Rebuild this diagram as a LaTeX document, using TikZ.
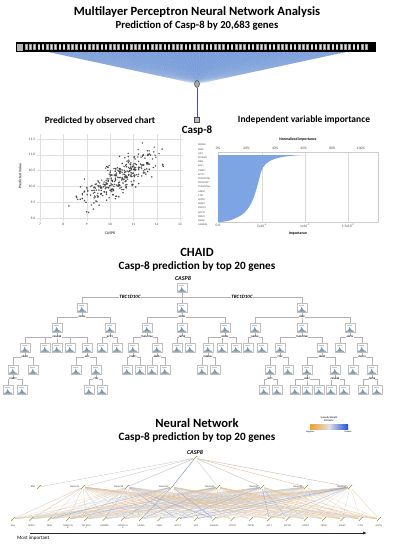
\documentclass[tikz,border=0pt]{standalone}
\usepackage{fontspec}
\setmainfont{Carlito}
\usetikzlibrary{calc,arrows.meta,shapes.geometric}
\pgfdeclarelayer{bg}
\pgfsetlayers{bg,main}
\definecolor{fanblue}{RGB}{122,158,218}
\definecolor{barblue}{RGB}{125,165,228}
\definecolor{histo}{RGB}{110,160,185}
\definecolor{wtan}{RGB}{228,188,140}
\definecolor{wblue}{RGB}{110,135,205}
\definecolor{wgray}{RGB}{200,200,200}
\definecolor{nnolive}{RGB}{150,140,50}
\definecolor{legor}{RGB}{240,160,40}
\definecolor{legbl}{RGB}{30,80,230}
\newcommand\myfs[1]{\fontsize{#1}{#1}\selectfont}
\tikzset{
  ttl/.style={font=\bfseries\myfs{#1}, inner sep=0},
  tick/.style={font=\myfs{3.6}, text=black!70, inner sep=0.5pt},
  cnode/.style={draw=gray!50, line width=0.3pt, fill=white, minimum width=10pt, minimum height=9pt, inner sep=0,
    path picture={
      \begin{scope}[shift={(path picture bounding box.center)}]
        \fill[histo] (-3.8pt,-3pt) -- (-2.6pt,-2.6pt) -- (-1.4pt,-1.4pt) -- (-0.4pt,1.2pt) -- (0.5pt,-0.6pt) -- (1.8pt,-2.3pt) -- (3.8pt,-3pt) -- cycle;
        \draw[gray!70, line width=0.15pt] (-4pt,-3pt) -- (4pt,-3pt);
        \draw[gray!45, line width=0.2pt] (-3.5pt,3pt) -- (2pt,3pt);
      \end{scope}}},
  cedge/.style={draw=gray!60, line width=0.3pt},
  clab/.style={font=\bfseries\itshape\myfs{2.4}, fill=white, inner sep=0.3pt},
  nnode/.style={minimum size=4pt, inner sep=0,
    path picture={\draw[nnolive, line width=0.55pt] (path picture bounding box.south west) -- (path picture bounding box.north east);
      \fill[black!55] (path picture bounding box.north east) circle (0.6pt);}},
  nnlab/.style={font=\myfs{2.6}, inner sep=0.3pt, text=black!75},
}
\newcommand\chsplit[3]{%
  \foreach \ch in {#2} {\draw[cedge] (#1.south) -- ++(0,4.5) -| (\ch.north);}
  \node[clab] at ($(#1.south)+(0,4.5)$) {#3};
}
\begin{document}
\begin{tikzpicture}[x=1pt,y=-1pt]
\useasboundingbox (0,0) rectangle (394,550);
\begin{pgfonlayer}{bg}
\fill[white] (0,0) rectangle (394,550);
\end{pgfonlayer}

% ---------- top: MLP ----------
\node[ttl=12.6] (t1) at (197,12) {Multilayer Perceptron Neural Network Analysis};
\node[ttl=10.7] (t2) at (197,26) {Prediction of Casp-8 by 20,683 genes};

\coordinate (hc) at (197,84);
\fill[fanblue] (48,52) -- (346,52) -- (hc) -- cycle;
\foreach \x in {48,52,...,346} \draw[white, opacity=0.22, line width=0.2pt] (\x,52) -- (hc);

\node[fill=black, minimum width=360pt, minimum height=10pt, inner sep=0] (bar) at (196,47) {};
\fill[gray!60] (17,43.5) rectangle (23,50.5);
\foreach \i in {0,...,81} {
  \fill[gray!75] ({25+4.2*\i},44.3) rectangle ++(2.6,5.4);
  \fill[gray!25] ({25.6+4.2*\i},45.2) rectangle ++(1.4,3.6);
}

\node[draw=gray!40!black, fill=gray!70, ellipse, minimum width=5pt, minimum height=7pt, inner sep=0, line width=0.4pt] (hid) at (hc) {};
\node[draw=black!70, fill=gray!55, minimum size=5pt, inner sep=0, line width=0.4pt] (out) at (197,120) {};
\draw[gray!60!blue, line width=0.5pt] (hid) -- (out);
\node[ttl=11] (casp) at (197,131) {Casp-8};

% ---------- scatter chart ----------
\node[ttl=9.5] (sct) at (100,121) {Predicted by observed chart};
\foreach \k in {0,...,6} \draw[gray!25, line width=0.3pt] ({40+23.333*\k},134) -- ({40+23.333*\k},221);
\foreach \k in {0,...,5} \draw[gray!25, line width=0.3pt] (37,{218-15.8*\k}) -- (183,{218-15.8*\k});
\foreach \v [count=\k from 0] in {9.0,9.5,10.0,10.5,11.0,11.5} \node[tick, anchor=east] at (36,{218-15.8*\k}) {\v};
\foreach \v [count=\k from 0] in {7,...,13} \node[tick] at ({40+23.333*\k},224.5) {\v};
\node[tick, font=\bfseries\myfs{3.8}] (xl) at (110,233) {CASP8};
\node[tick, font=\bfseries\myfs{3.8}, rotate=90] (yl) at (20,176) {Predicted Value};
\begin{scope}
\clip (37,136) rectangle (183,221);
\pgfmathsetseed{11}
\foreach \i in {1,...,330}{
  \pgfmathsetmacro\xo{10.45+1.4*(rnd+rnd+rnd+rnd-2)}
  \pgfmathsetmacro\yo{10.3+0.42*(\xo-10.45)+0.5*(rnd+rnd+rnd-1.5)}
  \pgfmathsetmacro\px{40+(\xo-7)*23.333}
  \pgfmathsetmacro\py{218-(\yo-9)*31.6}
  \draw[black!75, line width=0.3pt] (\px,\py) circle (0.6);
}
\end{scope}

% ---------- importance chart ----------
\node[ttl=9.5] (imp) at (304,120) {Independent variable importance};
\node[font=\bfseries\myfs{3.8}, inner sep=0] (ni) at (298,139) {Normalized importance};
\foreach \v [count=\k from 0] in {0,20,40,60,80,100} \node[tick] at ({218+28.6*\k},148) {\v\%};
\foreach \x in {262,305,348} \draw[gray!30, line width=0.3pt] (\x,152) -- (\x,222);
\draw[gray!40, line width=0.3pt] (218,152) rectangle (378,222);
\fill[barblue] (218,155) -- (305,155) .. controls (278,156) and (265,159) .. (261,172)
  .. controls (256,190) and (253,210) .. (238,217) .. controls (230,221) and (224,222) .. (218,222) -- cycle;
\foreach \g [count=\k from 0] in {MED26,PRKG,HIF3,PLEKHA1,FRB4,AGT1,CYSRT1,ACTC1,TMEM176B,TBC1D10C,TMEM176A,GPR34,CTSV,CEP28,ADDP1,ZNF101,ADCY4,CRIM1,NELAP,CAMK2B}
  \node[anchor=west, font=\myfs{2.5}, inner sep=0, text=black!75] at (198,{145+4.2*\k}) {\g};
\node[tick] at (218,225.5) {0.0};
\node[tick] at (262,225.5) {5x10\textsuperscript{-4}};
\node[tick] at (305,225.5) {1x10\textsuperscript{-3}};
\node[tick] at (348,225.5) {1.5x10\textsuperscript{-3}};
\node[font=\bfseries\myfs{3.8}, inner sep=0] (il) at (298,234) {Importance};

% ---------- CHAID ----------
\node[ttl=12.5] (chaid) at (197,252) {CHAID};
\node[ttl=11.2] (chsub) at (197,267) {Casp-8 prediction by top 20 genes};
\node[font=\bfseries\itshape\myfs{6}, inner sep=0] (ccasp) at (183,278) {CASP8};

\foreach \n/\x/\y in {0/182/288,
  1/82/308,2/182/308,3/302/308,
  4/57/328,5/110/328,6/147/328,7/182/328,8/225/328,9/255/328,10/302/328,11/350/328,
  12/25/348,13/45/348,14/57/348,15/70/348,16/87/348,17/102/348,18/117/348,19/133/348,20/157/348,
  21/177/348,22/190/348,23/208/348,24/222/348,25/236/348,26/248/348,27/262/348,28/280/348,29/322/348,30/340/348,31/362/348,
  32/13/370,33/33/370,34/76/370,35/96/370,36/127/370,37/140/370,38/152/370,39/165/370,40/202/370,41/215/370,
  42/270/370,43/288/370,44/307/370,45/335/370,46/353/370,47/372/370,
  48/8/390,49/22/390,50/89/390,51/102/390,52/264/390,53/277/390,54/295/390,55/307/390,56/319/390,57/331/390,58/344/390,59/363/390,60/377/390}
  \node[cnode] (c\n) at (\x,\y) {};

\foreach \ch in {c1,c2,c3} \draw[cedge] (c0.south) -- ++(0,4.5) -| (\ch.north);
\node[clab, font=\bfseries\itshape\myfs{5}] at (130,297) {TBC1D10C};
\node[clab, font=\bfseries\itshape\myfs{5}] at (242,297) {TBC1D10C};
\chsplit{c1}{c4,c5}{GPR34}
\chsplit{c2}{c6,c7,c8}{GPR34}
\chsplit{c3}{c9,c10,c11}{PRKG}
\chsplit{c4}{c12,c13,c14,c15,c16}{CAMK2B}
\chsplit{c5}{c17,c18}{ACTC1}
\chsplit{c6}{c19,c20}{TMEM176A}
\chsplit{c7}{c21,c22}{CEP28}
\chsplit{c8}{c23,c24,c25}{GPR34}
\chsplit{c9}{c26,c27}{MED26}
\chsplit{c10}{c28,c29}{TMEM176B}
\chsplit{c11}{c30,c31}{ADCY4}
\chsplit{c12}{c32,c33}{CRIM1}
\chsplit{c16}{c34,c35}{HIF3}
\chsplit{c19}{c36,c37}{CYSRT1}
\chsplit{c20}{c38,c39}{ADDP1}
\chsplit{c23}{c40,c41}{PLEKHA1}
\chsplit{c28}{c42,c43}{CTSV}
\chsplit{c29}{c44,c45}{NELAP}
\chsplit{c31}{c46,c47}{ZNF101}
\chsplit{c32}{c48,c49}{CYSRT1}
\chsplit{c35}{c50,c51}{CTSV}
\chsplit{c42}{c52,c53}{AGT1}
\chsplit{c44}{c54,c55,c56}{FRB4}
\chsplit{c45}{c57,c58}{CAMK2B}
\chsplit{c47}{c59,c60}{CEP28}

% ---------- Neural network ----------
\node[ttl=12.6] (nnt) at (197,423) {Neural Network};
\node[ttl=11.2] (nns) at (197,438) {Casp-8 prediction by top 20 genes};

\node[font=\myfs{2.6}, align=center, inner sep=0] (legt) at (329,419) {Synaptic Weight\\Estimate};
\shade[left color=legor, right color=legbl, middle color=gray!25] (310,424) rectangle (348,429);
\node[font=\myfs{2.2}, inner sep=0] at (310,431.5) {Negative};
\node[font=\myfs{2.2}, inner sep=0] at (348,431.5) {Positive};

\node[font=\bfseries\itshape\myfs{6}, inner sep=0] (ncasp) at (195,452) {CASP8};
\node[nnode] (o) at (195,458) {};

\node[nnode] (hb) at (39,487) {};
\node[nnlab, anchor=east] at (36,487) {Bias};
\foreach \j/\x in {1/83,2/127,3/172,4/218,5/262,6/306,7/350}{
  \node[nnode] (h\j) at (\x,487) {};
  \node[nnlab, anchor=east] at ({\x-3},487) {Neuron\j};
}
\foreach \g [count=\k from 0] in {Bias,GPR34,PRKG,TMEM176\\B,TBC1D10\\C,CAMK2B,TMEM176\\A,MED26,FRB4,ACTC1,HIF3,PLEKHA1,CYSRT1,CEP28,AGT1,ZNF101,ADDP1,CRIM1,NELAP,CTSV,ADCY4}{
  \node[nnode] (i\k) at ({13+18.3*\k},519) {};
  \node[nnlab, anchor=north, align=center, font=\myfs{2.4}] at ({13+18.3*\k},524) {\g};
}

\begin{pgfonlayer}{bg}
\draw[wgray, line width=0.35pt] (hb) -- (o);
\foreach \j/\cc/\w in {1/wgray/0.35,2/wgray/0.5,3/wblue/0.4,4/wgray/0.35,5/wgray/0.45,6/wtan/0.35,7/wgray/0.5}
  \draw[\cc, line width=\w pt] (h\j) -- (o);
\pgfmathsetseed{5}
\foreach \k in {0,...,20}{
  \foreach \j in {1,...,7}{
    \pgfmathsetmacro\r{rnd}
    \pgfmathsetmacro\w{0.15+0.55*rnd}
    \ifdim\r pt<0.42pt \def\cc{wtan}\else\ifdim\r pt<0.78pt \def\cc{wgray}\else\def\cc{wblue}\fi\fi
    \draw[\cc, line width=\w pt, opacity=0.6] (i\k) -- (h\j);
  }
}
\end{pgfonlayer}

\coordinate (a1) at (30,533);
\coordinate (a2) at (367,533);
\draw[-{Latex[length=4pt,width=3pt]}, line width=0.6pt, black!85] (a1) -- (a2);
\node[font=\myfs{5}, inner sep=0, anchor=west] (mi) at (17,538) {Most important};
\end{tikzpicture}
\end{document}
